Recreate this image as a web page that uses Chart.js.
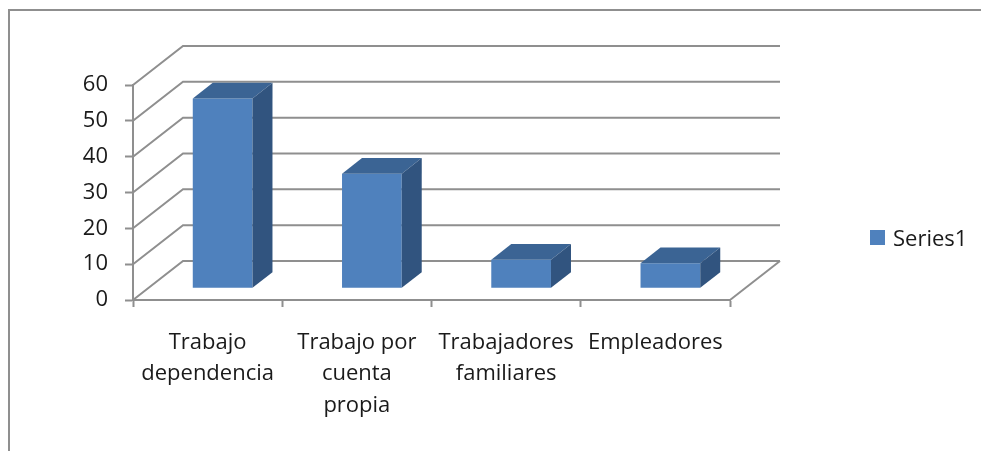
<!DOCTYPE html>
<html lang="es">
<head>
    <meta charset="UTF-8">
    <title>Series1</title>
    <script src="https://cdn.jsdelivr.net/npm/chart.js"></script>
    <style>
        html, body {
            margin: 0;
            overflow: hidden;
            background: #ffffff;
            font-family: 'Open Sans', sans-serif;
        }

        .chart-wrapper {
            position: absolute;
            left: 0;
            top: 0;
            width: 981px;
            height: 451px;
        }

        .legend {
            position: absolute;
            left: 870px;
            top: 222px;
            display: flex;
            align-items: center;
            gap: 8px;
            font-size: 22px;
            color: #1a1a1a;
        }

        .legend-box {
            width: 15px;
            height: 15px;
            background: #4f81bd;
        }
    </style>
</head>
<body>
    <div class="chart-wrapper">
        <canvas id="chart" width="981" height="451"></canvas>
    </div>
    <div class="legend">
        <div class="legend-box"></div>
        <span>Series1</span>
    </div>

    <script>
        const categories = [
            ['Trabajo', 'dependencia'],
            ['Trabajo por', 'cuenta', 'propia'],
            ['Trabajadores', 'familiares'],
            ['Empleadores']
        ];
        const values = [53, 32, 8, 7];
        const yMin = 0;
        const yMax = 60;
        const yStep = 10;

        // oblique depth of the plot box, and where the bars sit inside it
        const DEPTH_X = 50;
        const DEPTH_Y = -39;
        const BAR_FRONT = 0.3;
        const BAR_DEPTH = 0.4;

        const gridColor = '#8f8f8f';

        const box3d = {
            id: 'box3d',
            beforeDraw(chart) {
                // outer frame: only left and top edges show in the picture
                const ctx = chart.ctx;
                ctx.save();
                ctx.strokeStyle = gridColor;
                ctx.lineWidth = 2;
                ctx.beginPath();
                ctx.moveTo(9, chart.height);
                ctx.lineTo(9, 10);
                ctx.lineTo(chart.width, 10);
                ctx.stroke();
                ctx.restore();
            },
            beforeDatasetsDraw(chart) {
                const ctx = chart.ctx;
                const area = chart.chartArea;
                const y = chart.scales.y;

                ctx.save();
                ctx.strokeStyle = gridColor;
                ctx.lineWidth = 2;
                y.ticks.forEach(t => {
                    const py = y.getPixelForValue(t.value);
                    ctx.beginPath();
                    ctx.moveTo(area.left, py);
                    ctx.lineTo(area.left + DEPTH_X, py + DEPTH_Y);
                    ctx.lineTo(area.right + DEPTH_X, py + DEPTH_Y);
                    ctx.stroke();
                });
                // right edge of the floor
                ctx.beginPath();
                ctx.moveTo(area.right, area.bottom);
                ctx.lineTo(area.right + DEPTH_X, area.bottom + DEPTH_Y);
                ctx.stroke();
                ctx.restore();

                // push the bar fronts back into the box
                ctx.save();
                ctx.translate(DEPTH_X * BAR_FRONT, DEPTH_Y * BAR_FRONT);
            },
            afterDatasetsDraw(chart) {
                const ctx = chart.ctx;
                const dx = DEPTH_X * BAR_DEPTH;
                const dy = DEPTH_Y * BAR_DEPTH;

                chart.getDatasetMeta(0).data.forEach(bar => {
                    const p = bar.getProps(['x', 'y', 'base', 'width'], true);
                    const l = p.x - p.width / 2;
                    const r = p.x + p.width / 2;

                    ctx.fillStyle = '#3b6494';
                    ctx.beginPath();
                    ctx.moveTo(l, p.y);
                    ctx.lineTo(l + dx, p.y + dy);
                    ctx.lineTo(r + dx, p.y + dy);
                    ctx.lineTo(r, p.y);
                    ctx.closePath();
                    ctx.fill();

                    ctx.fillStyle = '#31547f';
                    ctx.beginPath();
                    ctx.moveTo(r, p.y);
                    ctx.lineTo(r + dx, p.y + dy);
                    ctx.lineTo(r + dx, p.base + dy);
                    ctx.lineTo(r, p.base);
                    ctx.closePath();
                    ctx.fill();
                });
                ctx.restore();
            }
        };

        const config = {
            type: 'bar',
            data: {
                labels: categories,
                datasets: [{
                    label: 'Series1',
                    data: values,
                    backgroundColor: '#4f81bd',
                    borderWidth: 0,
                    barPercentage: 0.4,
                    categoryPercentage: 1.0,
                    clip: false
                }]
            },
            options: {
                responsive: false,
                animation: false,
                layout: {
                    padding: { top: 85, right: 251, bottom: 0, left: 0 }
                },
                plugins: {
                    legend: { display: false },
                    tooltip: { enabled: false }
                },
                scales: {
                    x: {
                        afterFit: scale => { scale.height = 151; },
                        grid: {
                            drawOnChartArea: false,
                            tickLength: 7,
                            tickWidth: 2,
                            color: gridColor
                        },
                        border: { color: gridColor, width: 2 },
                        ticks: {
                            padding: 20,
                            maxRotation: 0,
                            autoSkip: false,
                            color: '#1a1a1a',
                            font: { family: 'Open Sans', size: 22, lineHeight: 1.43 }
                        }
                    },
                    y: {
                        min: yMin,
                        max: yMax,
                        afterFit: scale => { scale.width = 133; },
                        grid: {
                            drawOnChartArea: false,
                            tickLength: 8,
                            tickWidth: 2,
                            color: gridColor
                        },
                        border: { color: gridColor, width: 2 },
                        ticks: {
                            stepSize: yStep,
                            padding: 17,
                            color: '#1a1a1a',
                            font: { family: 'Open Sans', size: 22 }
                        }
                    }
                }
            },
            plugins: [box3d]
        };

        const chart = new Chart(document.getElementById('chart'), config);
    </script>
</body>
</html>
